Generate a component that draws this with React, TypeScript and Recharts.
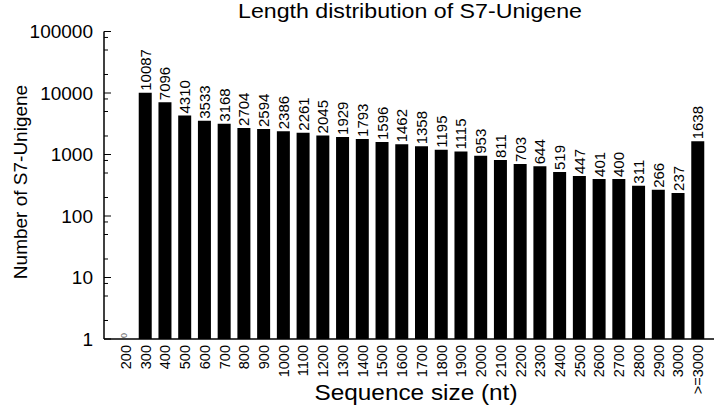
import { BarChart, Bar, XAxis, YAxis, LabelList, ReferenceDot } from 'recharts'

// sequence length bins and unigene counts
const sizes = ['200', '300', '400', '500', '600', '700', '800', '900', '1000', '1100', '1200', '1300', '1400', '1500', '1600', '1700', '1800', '1900', '2000', '2100', '2200', '2300', '2400', '2500', '2600', '2700', '2800', '2900', '3000', '>=3000']
const counts = [0, 10087, 7096, 4310, 3533, 3168, 2704, 2594, 2386, 2261, 2045, 1929, 1793, 1596, 1462, 1358, 1195, 1115, 953, 811, 703, 644, 519, 447, 401, 400, 311, 266, 237, 1638]

const majorTicks = [1, 10, 100, 1000, 10000, 100000]
const minorSteps = [2, 5, 8]

const yTicks: number[] = []
majorTicks.forEach(m => {
    yTicks.push(m)
    if (m < 100000) minorSteps.forEach(s => yTicks.push(m * s))
})

// log axis can't show 0, so the bar value is left empty and the label is drawn at the baseline
const data = sizes.map((size, i) => ({
    size,
    count: counts[i],
    bar: counts[i] > 0 ? counts[i] : null
}))

const font = '"Liberation Sans", Arial, sans-serif'

const YTick = (props: any) => {
    const { x, y, payload } = props
    const v = payload.value
    const major = majorTicks.includes(v)
    return (
        <g>
            <line x1={x} x2={x + (major ? 7 : 4)} y1={y} y2={y} stroke="#000" strokeWidth={1} />
            {major && (
                <text x={x - 11} y={y} textAnchor="end" dominantBaseline="central" fontSize={19} fontFamily={font} fill="#000">
                    {v}
                </text>
            )}
        </g>
    )
}

const XTick = (props: any) => {
    const { x, y, payload } = props
    return (
        <text
            transform={`translate(${x},${y + 6}) rotate(-90)`}
            textAnchor="end"
            dominantBaseline="central"
            fontSize={14.5}
            fontFamily={font}
            fill="#000"
        >
            {payload.value}
        </text>
    )
}

const ValueLabel = (props: any) => {
    const { x, y, width, value } = props
    if (value == null) return null
    return (
        <text
            transform={`translate(${x + width / 2},${y - 2}) rotate(-90)`}
            textAnchor="start"
            dominantBaseline="central"
            fontSize={15}
            fontFamily={font}
            fill="#000"
        >
            {value}
        </text>
    )
}

const ZeroLabel = (props: any) => {
    const { viewBox } = props
    const cx = viewBox.x + (viewBox.width || 0) / 2
    const cy = viewBox.y + (viewBox.height || 0) / 2
    return (
        <text
            transform={`translate(${cx - 2},${cy - 1}) rotate(-90)`}
            textAnchor="start"
            dominantBaseline="central"
            fontSize={9}
            fontFamily={font}
            fill="#666"
        >
            0
        </text>
    )
}

export default function App() {
    return (
        <div style={{ position: 'absolute', left: 0, top: 0, width: 715, height: 407, background: '#fff' }}>
            <BarChart width={715} height={407} data={data} margin={{ top: 31.5, right: 1, bottom: 0, left: 0 }}>
                <text x={410} y={18} textAnchor="middle" fontSize={20} fontFamily={font} fill="#000" textLength={344} lengthAdjust="spacingAndGlyphs">
                    Length distribution of S7-Unigene
                </text>
                <text transform="translate(27,182) rotate(-90)" textAnchor="middle" fontSize={19} fontFamily={font} fill="#000">
                    Number of S7-Unigene
                </text>
                <text x={416} y={400} textAnchor="middle" fontSize={22} fontFamily={font} fill="#000" textLength={203} lengthAdjust="spacingAndGlyphs">
                    Sequence size (nt)
                </text>
                <XAxis
                    dataKey="size"
                    interval={0}
                    height={68}
                    tickLine={false}
                    tickSize={0}
                    tickMargin={0}
                    padding={{ left: 12, right: 6 }}
                    axisLine={{ stroke: '#000', strokeWidth: 1.5 }}
                    tick={<XTick />}
                />
                <YAxis
                    scale="log"
                    domain={[1, 100000]}
                    ticks={yTicks}
                    interval={0}
                    allowDataOverflow
                    width={104}
                    tickLine={false}
                    tickSize={0}
                    tickMargin={0}
                    axisLine={{ stroke: '#000', strokeWidth: 1.5 }}
                    tick={<YTick />}
                />
                <Bar dataKey="bar" fill="#000" barSize={13} isAnimationActive={false}>
                    <LabelList dataKey="bar" content={<ValueLabel />} />
                </Bar>
                <ReferenceDot x="200" y={1} r={0} fill="none" stroke="none" label={<ZeroLabel />} />
            </BarChart>
        </div>
    )
}
